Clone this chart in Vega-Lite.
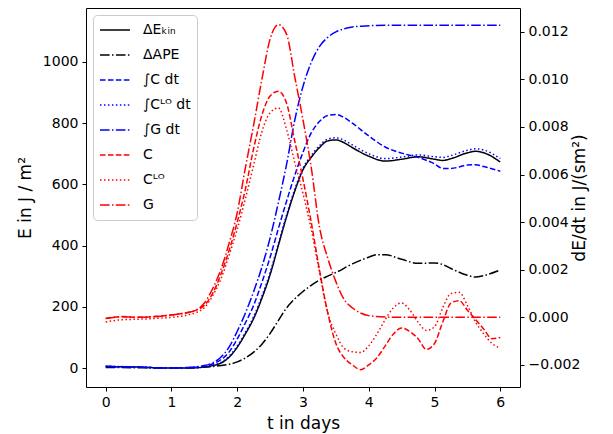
{
"$schema":"https://vega.github.io/schema/vega-lite/v6.json",
"width":434,"height":379,
"autosize":{"type":"none"},
"padding":{"left":86,"top":8,"right":93,"bottom":47},
"config":{
"view":{"stroke":"#000","strokeWidth":1},
"font":"DejaVu Sans",
"axis":{"labelFont":"DejaVu Sans","labelFontSize":14,"labelColor":"#000","titleFont":"DejaVu Sans","titleFontSize":17,"titleFontWeight":"normal","titleColor":"#000","tickColor":"#000","tickSize":4,"tickWidth":1,"domain":false,"grid":false,"labelPadding":4},
"legend":{"symbolType":"stroke","symbolSize":900,"symbolStrokeWidth":1.5,"labelFont":"DejaVu Sans","labelFontSize":14,"labelColor":"#000","labelOffset":12,"padding":6,"fillColor":"rgba(255,255,255,0.8)","strokeColor":"#cccccc","cornerRadius":4,"rowPadding":7,"clipHeight":18}
},
"datasets":{
"energy":[
{"s":"ΔEₖᵢₙ","t":0,"v":5},{"s":"ΔEₖᵢₙ","t":0.25,"v":4},{"s":"ΔEₖᵢₙ","t":0.5,"v":3},{"s":"ΔEₖᵢₙ","t":0.75,"v":1},{"s":"ΔEₖᵢₙ","t":1,"v":0},{"s":"ΔEₖᵢₙ","t":1.25,"v":0},{"s":"ΔEₖᵢₙ","t":1.5,"v":3},{"s":"ΔEₖᵢₙ","t":1.625,"v":8},{"s":"ΔEₖᵢₙ","t":1.75,"v":16},{"s":"ΔEₖᵢₙ","t":1.875,"v":35},{"s":"ΔEₖᵢₙ","t":2,"v":68},{"s":"ΔEₖᵢₙ","t":2.125,"v":112},{"s":"ΔEₖᵢₙ","t":2.25,"v":162},{"s":"ΔEₖᵢₙ","t":2.375,"v":228},{"s":"ΔEₖᵢₙ","t":2.5,"v":305},{"s":"ΔEₖᵢₙ","t":2.625,"v":400},{"s":"ΔEₖᵢₙ","t":2.75,"v":494},{"s":"ΔEₖᵢₙ","t":2.875,"v":578},{"s":"ΔEₖᵢₙ","t":3,"v":648},{"s":"ΔEₖᵢₙ","t":3.125,"v":688},{"s":"ΔEₖᵢₙ","t":3.25,"v":720},{"s":"ΔEₖᵢₙ","t":3.375,"v":742},{"s":"ΔEₖᵢₙ","t":3.5,"v":745},{"s":"ΔEₖᵢₙ","t":3.625,"v":736},{"s":"ΔEₖᵢₙ","t":3.75,"v":720},{"s":"ΔEₖᵢₙ","t":4,"v":692},{"s":"ΔEₖᵢₙ","t":4.25,"v":676},{"s":"ΔEₖᵢₙ","t":4.5,"v":682},{"s":"ΔEₖᵢₙ","t":4.75,"v":690},{"s":"ΔEₖᵢₙ","t":5,"v":682},{"s":"ΔEₖᵢₙ","t":5.125,"v":678},{"s":"ΔEₖᵢₙ","t":5.25,"v":684},{"s":"ΔEₖᵢₙ","t":5.5,"v":703},{"s":"ΔEₖᵢₙ","t":5.625,"v":708},{"s":"ΔEₖᵢₙ","t":5.75,"v":703},{"s":"ΔEₖᵢₙ","t":6,"v":673},
{"s":"ΔAPE","t":0,"v":2},{"s":"ΔAPE","t":0.5,"v":1},{"s":"ΔAPE","t":1,"v":0},{"s":"ΔAPE","t":1.25,"v":1},{"s":"ΔAPE","t":1.5,"v":3},{"s":"ΔAPE","t":1.75,"v":8},{"s":"ΔAPE","t":2,"v":20},{"s":"ΔAPE","t":2.125,"v":33},{"s":"ΔAPE","t":2.25,"v":52},{"s":"ΔAPE","t":2.375,"v":78},{"s":"ΔAPE","t":2.5,"v":113},{"s":"ΔAPE","t":2.625,"v":155},{"s":"ΔAPE","t":2.75,"v":196},{"s":"ΔAPE","t":2.875,"v":226},{"s":"ΔAPE","t":3,"v":250},{"s":"ΔAPE","t":3.125,"v":270},{"s":"ΔAPE","t":3.25,"v":287},{"s":"ΔAPE","t":3.375,"v":300},{"s":"ΔAPE","t":3.5,"v":312},{"s":"ΔAPE","t":3.75,"v":340},{"s":"ΔAPE","t":4,"v":362},{"s":"ΔAPE","t":4.125,"v":370},{"s":"ΔAPE","t":4.25,"v":370},{"s":"ΔAPE","t":4.5,"v":355},{"s":"ΔAPE","t":4.75,"v":342},{"s":"ΔAPE","t":5,"v":343},{"s":"ΔAPE","t":5.125,"v":338},{"s":"ΔAPE","t":5.25,"v":325},{"s":"ΔAPE","t":5.5,"v":303},{"s":"ΔAPE","t":5.625,"v":297},{"s":"ΔAPE","t":5.75,"v":302},{"s":"ΔAPE","t":6,"v":320},
{"s":"∫C dt","t":0,"v":5},{"s":"∫C dt","t":0.25,"v":4},{"s":"∫C dt","t":0.5,"v":3},{"s":"∫C dt","t":0.75,"v":1},{"s":"∫C dt","t":1,"v":0},{"s":"∫C dt","t":1.25,"v":1},{"s":"∫C dt","t":1.5,"v":6},{"s":"∫C dt","t":1.625,"v":13},{"s":"∫C dt","t":1.75,"v":27},{"s":"∫C dt","t":1.875,"v":52},{"s":"∫C dt","t":2,"v":95},{"s":"∫C dt","t":2.125,"v":148},{"s":"∫C dt","t":2.25,"v":205},{"s":"∫C dt","t":2.375,"v":280},{"s":"∫C dt","t":2.5,"v":362},{"s":"∫C dt","t":2.625,"v":455},{"s":"∫C dt","t":2.75,"v":545},{"s":"∫C dt","t":2.875,"v":630},{"s":"∫C dt","t":3,"v":705},{"s":"∫C dt","t":3.125,"v":768},{"s":"∫C dt","t":3.25,"v":805},{"s":"∫C dt","t":3.375,"v":825},{"s":"∫C dt","t":3.5,"v":828},{"s":"∫C dt","t":3.625,"v":818},{"s":"∫C dt","t":3.75,"v":800},{"s":"∫C dt","t":4,"v":758},{"s":"∫C dt","t":4.25,"v":722},{"s":"∫C dt","t":4.5,"v":702},{"s":"∫C dt","t":4.75,"v":688},{"s":"∫C dt","t":5,"v":667},{"s":"∫C dt","t":5.125,"v":652},{"s":"∫C dt","t":5.25,"v":652},{"s":"∫C dt","t":5.5,"v":663},{"s":"∫C dt","t":5.625,"v":664},{"s":"∫C dt","t":5.75,"v":658},{"s":"∫C dt","t":6,"v":643},
{"s":"∫Cᴸᴼ dt","t":0,"v":6},{"s":"∫Cᴸᴼ dt","t":0.25,"v":5},{"s":"∫Cᴸᴼ dt","t":0.5,"v":3},{"s":"∫Cᴸᴼ dt","t":0.75,"v":1},{"s":"∫Cᴸᴼ dt","t":1,"v":0},{"s":"∫Cᴸᴼ dt","t":1.25,"v":0},{"s":"∫Cᴸᴼ dt","t":1.5,"v":4},{"s":"∫Cᴸᴼ dt","t":1.625,"v":9},{"s":"∫Cᴸᴼ dt","t":1.75,"v":18},{"s":"∫Cᴸᴼ dt","t":1.875,"v":38},{"s":"∫Cᴸᴼ dt","t":2,"v":72},{"s":"∫Cᴸᴼ dt","t":2.125,"v":117},{"s":"∫Cᴸᴼ dt","t":2.25,"v":168},{"s":"∫Cᴸᴼ dt","t":2.375,"v":235},{"s":"∫Cᴸᴼ dt","t":2.5,"v":312},{"s":"∫Cᴸᴼ dt","t":2.625,"v":406},{"s":"∫Cᴸᴼ dt","t":2.75,"v":500},{"s":"∫Cᴸᴼ dt","t":2.875,"v":584},{"s":"∫Cᴸᴼ dt","t":3,"v":653},{"s":"∫Cᴸᴼ dt","t":3.125,"v":694},{"s":"∫Cᴸᴼ dt","t":3.25,"v":726},{"s":"∫Cᴸᴼ dt","t":3.375,"v":748},{"s":"∫Cᴸᴼ dt","t":3.5,"v":752},{"s":"∫Cᴸᴼ dt","t":3.625,"v":744},{"s":"∫Cᴸᴼ dt","t":3.75,"v":729},{"s":"∫Cᴸᴼ dt","t":4,"v":700},{"s":"∫Cᴸᴼ dt","t":4.25,"v":684},{"s":"∫Cᴸᴼ dt","t":4.5,"v":689},{"s":"∫Cᴸᴼ dt","t":4.75,"v":696},{"s":"∫Cᴸᴼ dt","t":5,"v":690},{"s":"∫Cᴸᴼ dt","t":5.125,"v":688},{"s":"∫Cᴸᴼ dt","t":5.25,"v":694},{"s":"∫Cᴸᴼ dt","t":5.5,"v":711},{"s":"∫Cᴸᴼ dt","t":5.625,"v":716},{"s":"∫Cᴸᴼ dt","t":5.75,"v":712},{"s":"∫Cᴸᴼ dt","t":6,"v":684},
{"s":"∫G dt","t":0,"v":5},{"s":"∫G dt","t":0.25,"v":4},{"s":"∫G dt","t":0.5,"v":3},{"s":"∫G dt","t":0.75,"v":1},{"s":"∫G dt","t":1,"v":0},{"s":"∫G dt","t":1.25,"v":2},{"s":"∫G dt","t":1.5,"v":8},{"s":"∫G dt","t":1.625,"v":17},{"s":"∫G dt","t":1.75,"v":35},{"s":"∫G dt","t":1.875,"v":68},{"s":"∫G dt","t":2,"v":120},{"s":"∫G dt","t":2.125,"v":180},{"s":"∫G dt","t":2.25,"v":250},{"s":"∫G dt","t":2.375,"v":330},{"s":"∫G dt","t":2.5,"v":425},{"s":"∫G dt","t":2.625,"v":540},{"s":"∫G dt","t":2.75,"v":665},{"s":"∫G dt","t":2.875,"v":810},{"s":"∫G dt","t":3,"v":920},{"s":"∫G dt","t":3.125,"v":998},{"s":"∫G dt","t":3.25,"v":1050},{"s":"∫G dt","t":3.375,"v":1080},{"s":"∫G dt","t":3.5,"v":1098},{"s":"∫G dt","t":3.625,"v":1108},{"s":"∫G dt","t":3.75,"v":1114},{"s":"∫G dt","t":4,"v":1118},{"s":"∫G dt","t":4.25,"v":1120},{"s":"∫G dt","t":5,"v":1120},{"s":"∫G dt","t":6,"v":1120}
],
"rate":[
{"s":"C","t":0,"v":-0.00005},{"s":"C","t":0.25,"v":0.00003},{"s":"C","t":0.5,"v":0},{"s":"C","t":0.75,"v":0.00003},{"s":"C","t":1,"v":0.0001},{"s":"C","t":1.25,"v":0.0002},{"s":"C","t":1.375,"v":0.0003},{"s":"C","t":1.5,"v":0.0005},{"s":"C","t":1.625,"v":0.001},{"s":"C","t":1.75,"v":0.0018},{"s":"C","t":1.875,"v":0.0028},{"s":"C","t":2,"v":0.004},{"s":"C","t":2.125,"v":0.0054},{"s":"C","t":2.25,"v":0.0071},{"s":"C","t":2.375,"v":0.0085},{"s":"C","t":2.5,"v":0.0093},{"s":"C","t":2.625,"v":0.0095},{"s":"C","t":2.75,"v":0.009},{"s":"C","t":2.875,"v":0.0074},{"s":"C","t":3,"v":0.0058},{"s":"C","t":3.125,"v":0.004},{"s":"C","t":3.25,"v":0.002},{"s":"C","t":3.375,"v":0.0002},{"s":"C","t":3.5,"v":-0.0011},{"s":"C","t":3.625,"v":-0.0017},{"s":"C","t":3.75,"v":-0.002},{"s":"C","t":3.875,"v":-0.0022},{"s":"C","t":4,"v":-0.002},{"s":"C","t":4.125,"v":-0.0017},{"s":"C","t":4.25,"v":-0.0012},{"s":"C","t":4.375,"v":-0.0007},{"s":"C","t":4.5,"v":-0.00045},{"s":"C","t":4.625,"v":-0.0006},{"s":"C","t":4.75,"v":-0.0009},{"s":"C","t":4.875,"v":-0.00135},{"s":"C","t":5,"v":-0.0011},{"s":"C","t":5.125,"v":-0.0002},{"s":"C","t":5.25,"v":0.0006},{"s":"C","t":5.375,"v":0.0007},{"s":"C","t":5.5,"v":0.0003},{"s":"C","t":5.625,"v":-0.0001},{"s":"C","t":5.75,"v":-0.0005},{"s":"C","t":5.875,"v":-0.0009},{"s":"C","t":6,"v":-0.00085},
{"s":"Cᴸᴼ","t":0,"v":-0.0002},{"s":"Cᴸᴼ","t":0.25,"v":-0.0001},{"s":"Cᴸᴼ","t":0.5,"v":-0.00008},{"s":"Cᴸᴼ","t":0.75,"v":-0.00005},{"s":"Cᴸᴼ","t":1,"v":0},{"s":"Cᴸᴼ","t":1.25,"v":0.0001},{"s":"Cᴸᴼ","t":1.375,"v":0.0002},{"s":"Cᴸᴼ","t":1.5,"v":0.0004},{"s":"Cᴸᴼ","t":1.625,"v":0.0009},{"s":"Cᴸᴼ","t":1.75,"v":0.0016},{"s":"Cᴸᴼ","t":1.875,"v":0.0026},{"s":"Cᴸᴼ","t":2,"v":0.0037},{"s":"Cᴸᴼ","t":2.125,"v":0.005},{"s":"Cᴸᴼ","t":2.25,"v":0.0064},{"s":"Cᴸᴼ","t":2.375,"v":0.0078},{"s":"Cᴸᴼ","t":2.5,"v":0.0086},{"s":"Cᴸᴼ","t":2.625,"v":0.0088},{"s":"Cᴸᴼ","t":2.75,"v":0.0079},{"s":"Cᴸᴼ","t":2.875,"v":0.0065},{"s":"Cᴸᴼ","t":3,"v":0.0052},{"s":"Cᴸᴼ","t":3.125,"v":0.0037},{"s":"Cᴸᴼ","t":3.25,"v":0.0019},{"s":"Cᴸᴼ","t":3.375,"v":0.0002},{"s":"Cᴸᴼ","t":3.5,"v":-0.0007},{"s":"Cᴸᴼ","t":3.625,"v":-0.0013},{"s":"Cᴸᴼ","t":3.75,"v":-0.00145},{"s":"Cᴸᴼ","t":3.875,"v":-0.00148},{"s":"Cᴸᴼ","t":4,"v":-0.0012},{"s":"Cᴸᴼ","t":4.125,"v":-0.0007},{"s":"Cᴸᴼ","t":4.25,"v":-0.0001},{"s":"Cᴸᴼ","t":4.375,"v":0.0004},{"s":"Cᴸᴼ","t":4.5,"v":0.0006},{"s":"Cᴸᴼ","t":4.625,"v":0.0003},{"s":"Cᴸᴼ","t":4.75,"v":-0.0002},{"s":"Cᴸᴼ","t":4.875,"v":-0.00055},{"s":"Cᴸᴼ","t":5,"v":-0.0004},{"s":"Cᴸᴼ","t":5.125,"v":0.0004},{"s":"Cᴸᴼ","t":5.25,"v":0.001},{"s":"Cᴸᴼ","t":5.375,"v":0.00105},{"s":"Cᴸᴼ","t":5.5,"v":0.0005},{"s":"Cᴸᴼ","t":5.625,"v":-0.0002},{"s":"Cᴸᴼ","t":5.75,"v":-0.0007},{"s":"Cᴸᴼ","t":5.875,"v":-0.0011},{"s":"Cᴸᴼ","t":6,"v":-0.0013},
{"s":"G","t":0,"v":-0.00005},{"s":"G","t":0.25,"v":0.00002},{"s":"G","t":0.5,"v":0},{"s":"G","t":0.75,"v":0.00003},{"s":"G","t":1,"v":0.0001},{"s":"G","t":1.25,"v":0.0002},{"s":"G","t":1.375,"v":0.0003},{"s":"G","t":1.5,"v":0.0006},{"s":"G","t":1.625,"v":0.0012},{"s":"G","t":1.75,"v":0.002},{"s":"G","t":1.875,"v":0.0031},{"s":"G","t":2,"v":0.0044},{"s":"G","t":2.125,"v":0.0063},{"s":"G","t":2.25,"v":0.0081},{"s":"G","t":2.375,"v":0.01},{"s":"G","t":2.5,"v":0.0117},{"s":"G","t":2.625,"v":0.0123},{"s":"G","t":2.75,"v":0.0119},{"s":"G","t":2.875,"v":0.0101},{"s":"G","t":3,"v":0.0083},{"s":"G","t":3.125,"v":0.0063},{"s":"G","t":3.25,"v":0.0038},{"s":"G","t":3.375,"v":0.0025},{"s":"G","t":3.5,"v":0.0015},{"s":"G","t":3.625,"v":0.00075},{"s":"G","t":3.75,"v":0.0004},{"s":"G","t":3.875,"v":0.00018},{"s":"G","t":4,"v":0.00007},{"s":"G","t":4.25,"v":0.00001},{"s":"G","t":4.5,"v":0},{"s":"G","t":5,"v":0},{"s":"G","t":6,"v":0}
]
},
"layer":[
{"data":{"name":"energy"},
"mark":{"type":"line","strokeWidth":1.5,"interpolate":"monotone"},
"encoding":{
"x":{"field":"t","type":"quantitative","scale":{"domain":[-0.3,6.3],"nice":false,"zero":false},"axis":{"values":[0,1,2,3,4,5,6],"format":"d","title":"t in days","titlePadding":6}},
"y":{"field":"v","type":"quantitative","scale":{"domain":[-62,1176],"nice":false,"zero":false},"axis":{"orient":"left","values":[0,200,400,600,800,1000],"format":"d","title":"E in J / m²","titlePadding":8}},
"color":{"field":"s","type":"nominal","scale":{"domain":["ΔEₖᵢₙ","ΔAPE","∫C dt","∫Cᴸᴼ dt","∫G dt","C","Cᴸᴼ","G"],"range":["#000000","#000000","#0000ff","#0000ff","#0000ff","#ff0000","#ff0000","#ff0000"]},"legend":{"title":null,"orient":"none","legendX":7,"legendY":7}},
"strokeDash":{"field":"s","type":"nominal","scale":{"domain":["ΔEₖᵢₙ","ΔAPE","∫C dt","∫Cᴸᴼ dt","∫G dt","C","Cᴸᴼ","G"],"range":[[1,0],[9.6,2.4,1.5,2.4],[5.55,2.4],[1.5,2.475],[9.6,2.4,1.5,2.4],[5.55,2.4],[1.5,2.475],[9.6,2.4,1.5,2.4]]},"legend":{"title":null,"orient":"none","legendX":7,"legendY":7}}
}},
{"data":{"name":"rate"},
"mark":{"type":"line","strokeWidth":1.5,"interpolate":"monotone"},
"encoding":{
"x":{"field":"t","type":"quantitative","scale":{"domain":[-0.3,6.3],"nice":false,"zero":false},"axis":{"values":[0,1,2,3,4,5,6],"format":"d","title":"t in days","titlePadding":6}},
"y":{"field":"v","type":"quantitative","scale":{"domain":[-0.00293,0.013],"nice":false,"zero":false},"axis":{"orient":"right","values":[-0.002,0,0.002,0.004,0.006,0.008,0.01,0.012],"format":".3f","title":"dE/dt in J/(sm²)","titleAngle":270,"titlePadding":9}},
"color":{"field":"s","type":"nominal","scale":{"domain":["ΔEₖᵢₙ","ΔAPE","∫C dt","∫Cᴸᴼ dt","∫G dt","C","Cᴸᴼ","G"],"range":["#000000","#000000","#0000ff","#0000ff","#0000ff","#ff0000","#ff0000","#ff0000"]},"legend":{"title":null,"orient":"none","legendX":7,"legendY":7}},
"strokeDash":{"field":"s","type":"nominal","scale":{"domain":["ΔEₖᵢₙ","ΔAPE","∫C dt","∫Cᴸᴼ dt","∫G dt","C","Cᴸᴼ","G"],"range":[[1,0],[9.6,2.4,1.5,2.4],[5.55,2.4],[1.5,2.475],[9.6,2.4,1.5,2.4],[5.55,2.4],[1.5,2.475],[9.6,2.4,1.5,2.4]]},"legend":{"title":null,"orient":"none","legendX":7,"legendY":7}}
}}
],
"resolve":{"scale":{"y":"independent"}}
}
